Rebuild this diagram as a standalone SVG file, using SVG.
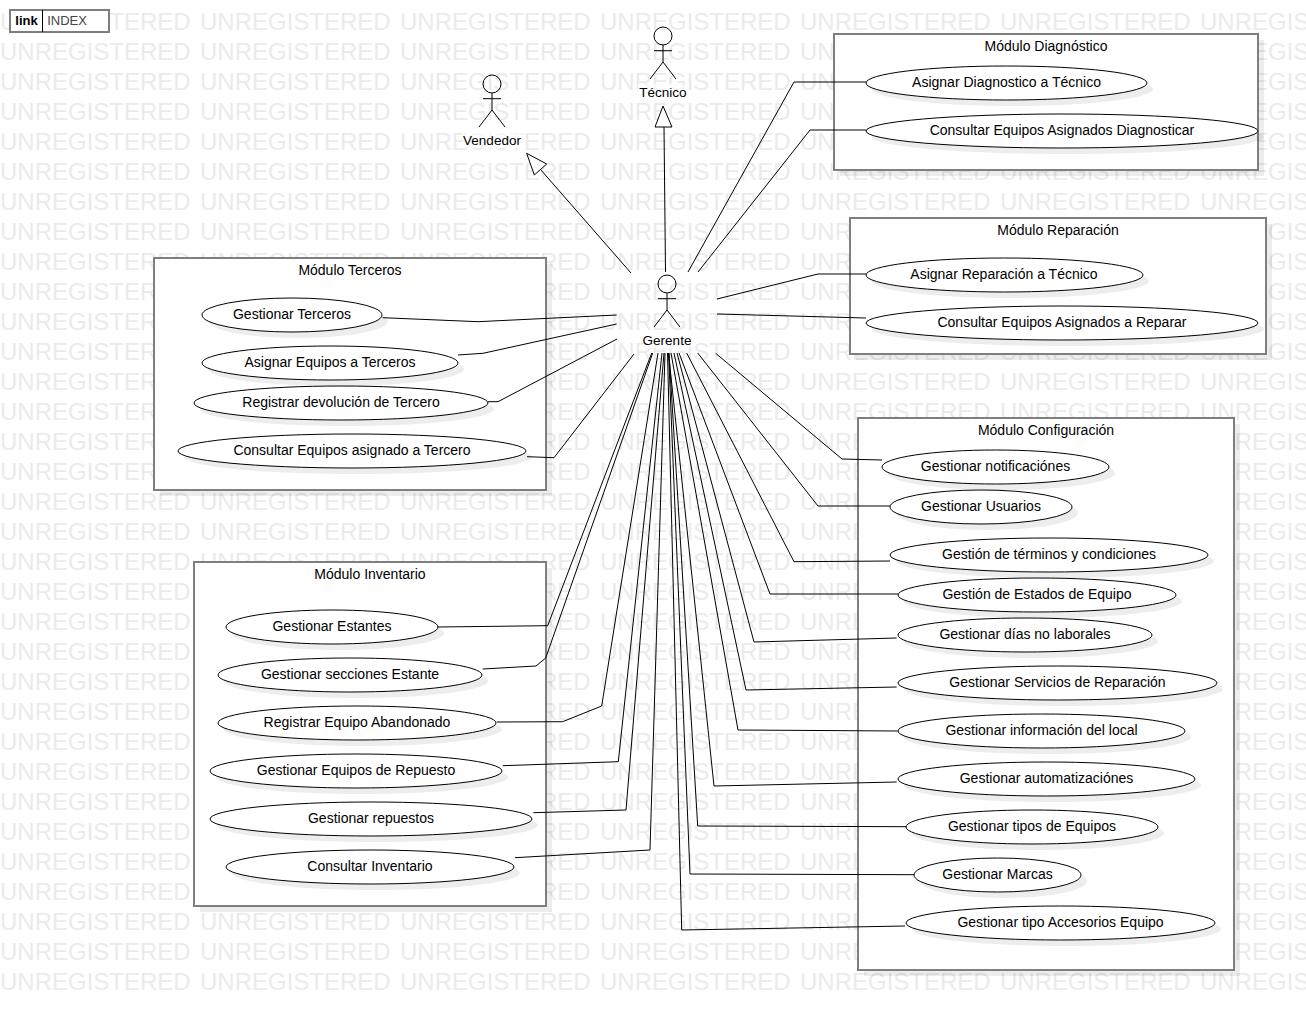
<svg xmlns="http://www.w3.org/2000/svg" width="1306" height="1010" viewBox="0 0 1306 1010">
<style>
text{font-family:"Liberation Sans",Arial,sans-serif;font-size:14px;fill:#000;text-anchor:middle;dominant-baseline:central}
.wm{font-size:24px;fill:#ebebeb;text-anchor:start;dominant-baseline:alphabetic}
.lk{font-size:13px}
.ac{font-size:13.5px}
.box{fill:#fff;stroke:#7f7f7f;stroke-width:2}
.bs{fill:#000;fill-opacity:.07;stroke:none}
.uc{fill:#fff;stroke:#000;stroke-width:1}
.us{fill:#000;fill-opacity:.07;stroke:none}
.c{fill:none;stroke:#000;stroke-width:1}
.a{fill:none;stroke:#000;stroke-width:1}
.bg{fill:#fff;fill-opacity:.6;stroke:none}
.t{fill:#fff;stroke:#000;stroke-width:1}
</style>
<defs>
<text id="wmrow" class="wm" y="0"><tspan x="0">UNREGISTERED</tspan><tspan x="200">UNREGISTERED</tspan><tspan x="400">UNREGISTERED</tspan><tspan x="600">UNREGISTERED</tspan><tspan x="800">UNREGISTERED</tspan><tspan x="1000">UNREGISTERED</tspan><tspan x="1200">UNREGISTERED</tspan></text>
</defs>
<rect width="1306" height="1010" fill="#fff"/>
<g id="watermark">
<use href="#wmrow" y="30"/><use href="#wmrow" y="60"/><use href="#wmrow" y="90"/><use href="#wmrow" y="120"/><use href="#wmrow" y="150"/><use href="#wmrow" y="180"/><use href="#wmrow" y="210"/><use href="#wmrow" y="240"/><use href="#wmrow" y="270"/><use href="#wmrow" y="300"/><use href="#wmrow" y="330"/><use href="#wmrow" y="360"/><use href="#wmrow" y="390"/><use href="#wmrow" y="420"/><use href="#wmrow" y="450"/><use href="#wmrow" y="480"/><use href="#wmrow" y="510"/><use href="#wmrow" y="540"/><use href="#wmrow" y="570"/><use href="#wmrow" y="600"/><use href="#wmrow" y="630"/><use href="#wmrow" y="660"/><use href="#wmrow" y="690"/><use href="#wmrow" y="720"/><use href="#wmrow" y="750"/><use href="#wmrow" y="780"/><use href="#wmrow" y="810"/><use href="#wmrow" y="840"/><use href="#wmrow" y="870"/><use href="#wmrow" y="900"/><use href="#wmrow" y="930"/><use href="#wmrow" y="960"/><use href="#wmrow" y="990"/>
</g>
<g id="link-frame"><rect x="10" y="10" width="99" height="22" class="box"/><line x1="42.5" y1="10" x2="42.5" y2="32" stroke="#000"/><text class="lk" x="26.5" y="20" font-weight="bold">link</text><text class="lk" x="67" y="20" style="fill:#444">INDEX</text></g>
<g id="mod-diagnostico"><rect x="840" y="40" width="424" height="136" class="bs"/><rect x="834" y="34" width="424" height="136" class="box"/><text x="1046" y="45.5">Módulo Diagnóstico</text></g>
<g id="mod-reparacion"><rect x="856" y="224" width="416" height="136" class="bs"/><rect x="850" y="218" width="416" height="136" class="box"/><text x="1058" y="229.5">Módulo Reparación</text></g>
<g id="mod-terceros"><rect x="160" y="264" width="392" height="232" class="bs"/><rect x="154" y="258" width="392" height="232" class="box"/><text x="350" y="269.5">Módulo Terceros</text></g>
<g id="mod-inventario"><rect x="200" y="568" width="352" height="344" class="bs"/><rect x="194" y="562" width="352" height="344" class="box"/><text x="370" y="573.5">Módulo Inventario</text></g>
<g id="mod-configuracion"><rect x="864" y="424" width="376" height="552" class="bs"/><rect x="858" y="418" width="376" height="552" class="box"/><text x="1046" y="429.5">Módulo Configuración</text></g>
<g id="uc-d1"><ellipse cx="1012.5" cy="89" rx="140.5" ry="17" class="us"/><ellipse cx="1006.5" cy="83" rx="140.5" ry="17" class="uc"/><text x="1006.5" y="82">Asignar Diagnostico a Técnico</text></g>
<g id="uc-d2"><ellipse cx="1068" cy="137" rx="196" ry="17" class="us"/><ellipse cx="1062" cy="131" rx="196" ry="17" class="uc"/><text x="1062" y="130">Consultar Equipos Asignados Diagnosticar</text></g>
<g id="uc-r1"><ellipse cx="1010.5" cy="281" rx="138.5" ry="17" class="us"/><ellipse cx="1004.5" cy="275" rx="138.5" ry="17" class="uc"/><text x="1004" y="274">Asignar Reparación a Técnico</text></g>
<g id="uc-r2"><ellipse cx="1068" cy="329" rx="196" ry="17" class="us"/><ellipse cx="1062" cy="323" rx="196" ry="17" class="uc"/><text x="1062" y="322">Consultar Equipos Asignados a Reparar</text></g>
<g id="uc-t1"><ellipse cx="298" cy="321" rx="90" ry="17" class="us"/><ellipse cx="292" cy="315" rx="90" ry="17" class="uc"/><text x="292" y="314">Gestionar Terceros</text></g>
<g id="uc-t2"><ellipse cx="336" cy="369" rx="128" ry="17" class="us"/><ellipse cx="330" cy="363" rx="128" ry="17" class="uc"/><text x="330" y="362">Asignar Equipos a Terceros</text></g>
<g id="uc-t3"><ellipse cx="347" cy="409" rx="147" ry="17" class="us"/><ellipse cx="341" cy="403" rx="147" ry="17" class="uc"/><text x="341" y="402">Registrar devolución de Tercero</text></g>
<g id="uc-t4"><ellipse cx="358" cy="457" rx="174" ry="17" class="us"/><ellipse cx="352" cy="451" rx="174" ry="17" class="uc"/><text x="352" y="450">Consultar Equipos asignado a Tercero</text></g>
<g id="uc-i1"><ellipse cx="338" cy="633" rx="106" ry="17" class="us"/><ellipse cx="332" cy="627" rx="106" ry="17" class="uc"/><text x="332" y="626">Gestionar Estantes</text></g>
<g id="uc-i2"><ellipse cx="356" cy="681" rx="132" ry="17" class="us"/><ellipse cx="350" cy="675" rx="132" ry="17" class="uc"/><text x="350" y="674">Gestionar secciones Estante</text></g>
<g id="uc-i3"><ellipse cx="363" cy="729" rx="139" ry="17" class="us"/><ellipse cx="357" cy="723" rx="139" ry="17" class="uc"/><text x="357" y="722">Registrar Equipo Abandonado</text></g>
<g id="uc-i4"><ellipse cx="362" cy="777" rx="146" ry="17" class="us"/><ellipse cx="356" cy="771" rx="146" ry="17" class="uc"/><text x="356" y="770">Gestionar Equipos de Repuesto</text></g>
<g id="uc-i5"><ellipse cx="377" cy="825" rx="161" ry="17" class="us"/><ellipse cx="371" cy="819" rx="161" ry="17" class="uc"/><text x="371" y="818">Gestionar repuestos</text></g>
<g id="uc-i6"><ellipse cx="376" cy="873" rx="144" ry="17" class="us"/><ellipse cx="370" cy="867" rx="144" ry="17" class="uc"/><text x="370" y="866">Consultar Inventario</text></g>
<g id="uc-c1"><ellipse cx="1001.5" cy="473" rx="113.5" ry="17" class="us"/><ellipse cx="995.5" cy="467" rx="113.5" ry="17" class="uc"/><text x="995.5" y="466">Gestionar notificaciónes</text></g>
<g id="uc-c2"><ellipse cx="987" cy="513" rx="91" ry="17" class="us"/><ellipse cx="981" cy="507" rx="91" ry="17" class="uc"/><text x="981" y="506">Gestionar Usuarios</text></g>
<g id="uc-c3"><ellipse cx="1055" cy="561" rx="159" ry="17" class="us"/><ellipse cx="1049" cy="555" rx="159" ry="17" class="uc"/><text x="1049" y="554">Gestión de términos y condiciones</text></g>
<g id="uc-c4"><ellipse cx="1043" cy="601" rx="139" ry="17" class="us"/><ellipse cx="1037" cy="595" rx="139" ry="17" class="uc"/><text x="1037" y="594">Gestión de Estados de Equipo</text></g>
<g id="uc-c5"><ellipse cx="1031" cy="641" rx="127" ry="17" class="us"/><ellipse cx="1025" cy="635" rx="127" ry="17" class="uc"/><text x="1025" y="634">Gestionar días no laborales</text></g>
<g id="uc-c6"><ellipse cx="1063.5" cy="689" rx="159.5" ry="17" class="us"/><ellipse cx="1057.5" cy="683" rx="159.5" ry="17" class="uc"/><text x="1057.5" y="682">Gestionar Servicios de Reparación</text></g>
<g id="uc-c7"><ellipse cx="1047.5" cy="737" rx="143.5" ry="17" class="us"/><ellipse cx="1041.5" cy="731" rx="143.5" ry="17" class="uc"/><text x="1041.5" y="730">Gestionar información del local</text></g>
<g id="uc-c8"><ellipse cx="1052.5" cy="785" rx="148.5" ry="17" class="us"/><ellipse cx="1046.5" cy="779" rx="148.5" ry="17" class="uc"/><text x="1046.5" y="778">Gestionar automatizaciónes</text></g>
<g id="uc-c9"><ellipse cx="1038" cy="833" rx="126" ry="17" class="us"/><ellipse cx="1032" cy="827" rx="126" ry="17" class="uc"/><text x="1032" y="826">Gestionar tipos de Equipos</text></g>
<g id="uc-c10"><ellipse cx="1003.5" cy="881" rx="83.5" ry="17" class="us"/><ellipse cx="997.5" cy="875" rx="83.5" ry="17" class="uc"/><text x="997.5" y="874">Gestionar Marcas</text></g>
<g id="uc-c11"><ellipse cx="1066.5" cy="929" rx="154.5" ry="17" class="us"/><ellipse cx="1060.5" cy="923" rx="154.5" ry="17" class="uc"/><text x="1060.5" y="922">Gestionar tipo Accesorios Equipo</text></g>
<g id="connectors">
<polyline class="c" points="665.5,272 664,127"/><polygon class="t" points="663,106 655,127 672,127"/>
<polyline class="c" points="631,273 540.5,169.5"/><polygon class="t" points="526.7,153.3 546.7,164 534.3,175"/>
<polyline class="c" points="688,272 794,82 866,82"/>
<polyline class="c" points="698,272 810,130 866,130"/>
<polyline class="c" points="717,299 818,274 866,274"/>
<polyline class="c" points="717,314 866,318"/>
<polyline class="c" points="382.7,317.7 478,321.7 616.7,315"/>
<polyline class="c" points="458,355 483,353.3 616.7,324"/>
<polyline class="c" points="488,401.7 498,401.7 617,339"/>
<polyline class="c" points="527,456.7 554,457.7 634,354"/>
<polyline class="c" points="438,627 547.7,625.7 651.7,353"/>
<polyline class="c" points="482.7,669 536,666 545.7,658 652.7,353"/>
<polyline class="c" points="496.7,722 562.7,721.7 601.7,706 658,353"/>
<polyline class="c" points="502.7,765.7 618.3,761.7 662,353"/>
<polyline class="c" points="533.3,812.7 626,810 664,353"/>
<polyline class="c" points="515,857.7 650,850 665,353"/>
<polyline class="c" points="715.7,353.3 842,459 882,460"/>
<polyline class="c" points="697.7,353 818,506 890,506"/>
<polyline class="c" points="686.7,353 794,561.7 890,561"/>
<polyline class="c" points="679,353 770,594 898,594"/>
<polyline class="c" points="677,353 754,642 896.7,638"/>
<polyline class="c" points="674,353 746,690 896.7,687"/>
<polyline class="c" points="671,353 738,730 897.7,731"/>
<polyline class="c" points="668.5,353 714,786 896.7,782"/>
<polyline class="c" points="669,353 697.7,826 906,826.7"/>
<polyline class="c" points="668.6,353 690,874 914.3,874.7"/>
<polyline class="c" points="667.5,353 681.7,930 905,926"/>
</g>
<g id="actor-tecnico"><rect x="638" y="84" width="50" height="16" class="bg"/><circle cx="663" cy="36" r="9" class="a"/><path class="a" d="M663 45V62M654 50.7H672M650 79L663 62L676 79"/><text class="ac" x="663" y="92">Técnico</text></g>
<g id="actor-vendedor"><rect x="462" y="132" width="60" height="16" class="bg"/><circle cx="492" cy="84" r="9" class="a"/><path class="a" d="M492 93V110M483 98.7H501M479 127L492 110L505 127"/><text class="ac" x="492" y="140">Vendedor</text></g>
<g id="actor-gerente"><rect x="642" y="332" width="50" height="16" class="bg"/><circle cx="667" cy="284" r="9" class="a"/><path class="a" d="M667 293V310M658 298.7H676M654 327L667 310L680 327"/><text class="ac" x="667" y="340">Gerente</text></g>
</svg>
